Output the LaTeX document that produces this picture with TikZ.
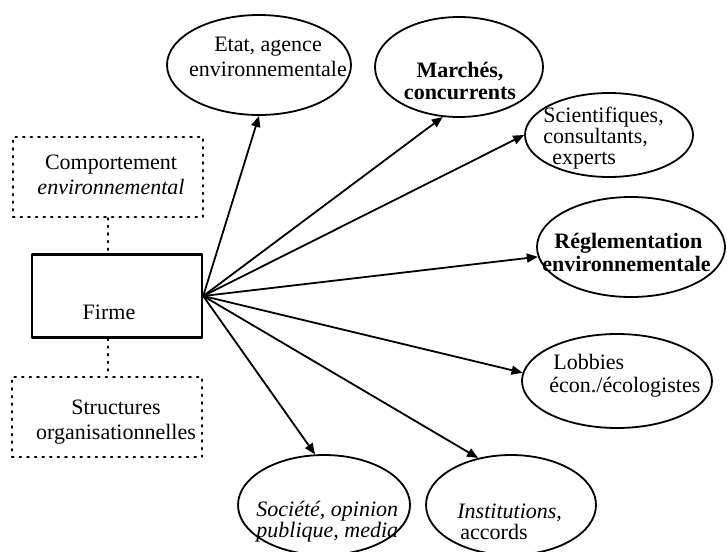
\documentclass[tikz,border=0pt]{standalone}
\usepackage{fontspec}
\setmainfont{Liberation Serif}
\usetikzlibrary{arrows.meta,shapes.geometric}

\begin{document}
\begin{tikzpicture}[
		x=0.5pt,
		y=-0.5pt,
		line cap=round,
		line join=round,
		>={Triangle[length=5.5pt,width=4.5pt]},
		txt/.style={font=\fontsize{11}{12.5}\selectfont, inner sep=0pt},
		oval/.style={ellipse, draw, line width=0.9pt, inner sep=0pt},
		dotbox/.style={draw, line width=1pt, dash pattern=on 0.8pt off 3pt,
			minimum width=95pt, minimum height=40pt, inner sep=0pt},
		firmbox/.style={draw, line width=1.2pt, minimum width=85pt,
			minimum height=41.5pt, inner sep=0pt},
		arr/.style={->, line width=0.9pt}
		]
		
		\useasboundingbox (0,0) rectangle (727,551);
		
		%------------------------------------------------------------------
		% Left column: firm and its two dotted boxes
		%------------------------------------------------------------------
		\node[dotbox]  (compo) at (108,177) {};
		\node[firmbox] (firme) at (117,296) {};
		\node[dotbox]  (struc) at (107,417) {};
		
		\node[txt, align=center] (compoLbl) at (111,175)
		{Comportement\\\textit{environnemental}};
		\node[txt] (firmeLbl) at (109,312) {Firme};
		\node[txt, align=center] (strucLbl) at (116,422)
		{Structures\\organisationnelles};
		
		\draw[line width=1pt, dash pattern=on 0.8pt off 3pt]
		(compo.south) -- (compo.south |- firme.north);
		\draw[line width=1pt, dash pattern=on 0.8pt off 3pt]
		(compo.south |- firme.south) -- (compo.south |- struc.north);
		
		%------------------------------------------------------------------
		% Actors (ellipses)
		%------------------------------------------------------------------
		\node[oval, minimum width=92pt, minimum height=50pt] (etat)  at (259, 65) {};
		\node[oval, minimum width=84pt, minimum height=50pt] (march) at (459, 67) {};
		\node[oval, minimum width=84pt, minimum height=42pt] (sci)   at (609,135) {};
		\node[oval, minimum width=94pt, minimum height=50pt] (regl)  at (631,247) {};
		\node[oval, minimum width=95pt, minimum height=47pt] (lobb)  at (617,381) {};
		\node[oval, minimum width=86pt, minimum height=50pt] (soc)   at (324,505) {};
		\node[oval, minimum width=85pt, minimum height=50pt] (inst)  at (511,505) {};
		
		\node[txt, align=center] (etatLbl) at (268,57)
		{Etat, agence\\environnementale};
		\node[txt, align=center, font=\fontsize{11}{11}\selectfont\bfseries] (marchLbl) at (460,81)
		{Marchés,\\concurrents};
		\node[txt, align=left, anchor=west, font=\fontsize{11}{10.5}\selectfont] (sciLbl) at (543,138)
		{Scientifiques,\\consultants,\\\hspace*{4.5pt}experts};
		\node[txt, align=left, anchor=west, font=\fontsize{11}{11.5}\selectfont\bfseries] (reglLbl) at (542,252)
		{\hspace*{6pt}Réglementation\\environnementale};
		\node[txt, align=left, anchor=west, font=\fontsize{11}{11.5}\selectfont] (lobbLbl) at (549,376)
		{\hspace*{2pt}Lobbies\\écon./écologistes};
		\node[txt, align=left, anchor=west, font=\fontsize{11}{10.5}\selectfont\itshape] (socLbl) at (256,522)
		{Société, opinion\\publique, media};
		\node[txt, align=left, anchor=west, font=\fontsize{11}{10.5}\selectfont] (instLbl) at (457,522)
		{\textit{Institutions,}\\\hspace*{1.5pt}accords};
		
		%------------------------------------------------------------------
		% Arrows from the firm
		%------------------------------------------------------------------
		\draw[arr] (firme.east) -- (etat.south);
		\draw[arr] (firme.east) -- (march.252);
		\draw[arr] (firme.east) -- (sci.west);
		\draw[arr] (firme.east) -- (regl.186);
		\draw[arr] (firme.east) -- (lobb.175);
		\draw[arr] (firme.east) -- (soc.100);
		\draw[arr] (firme.east) -- (inst.125);
		
	\end{tikzpicture}
\end{document}
